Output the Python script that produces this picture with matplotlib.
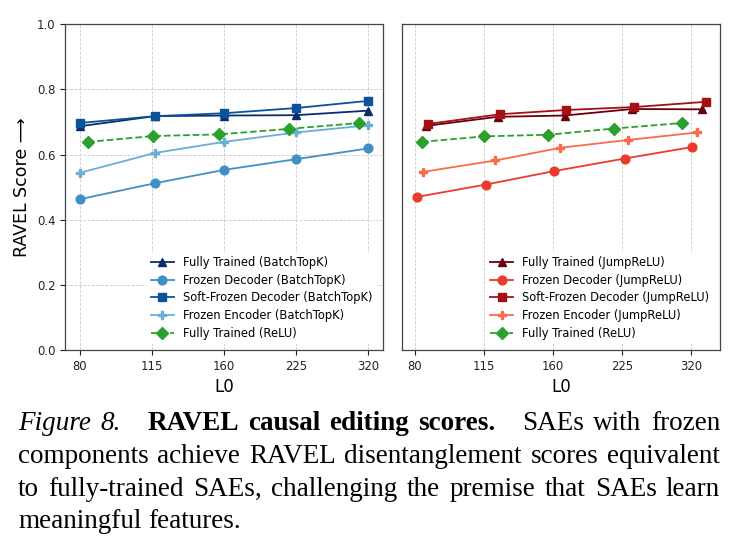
import matplotlib
matplotlib.use("Agg")
import matplotlib.pyplot as plt

# x ticks: L0 categories (points are drawn at category index + a small jitter)
l0_labels = ["80", "115", "160", "225", "320"]
l0_pos = [0, 1, 2, 3, 4]

# left panel: BatchTopK
btk_full_x = [0.0, 1.04, 2.0, 3.0, 4.0]
btk_full_y = [0.687, 0.718, 0.720, 0.721, 0.735]
btk_fdec_x = [0.0, 1.04, 2.0, 3.0, 4.0]
btk_fdec_y = [0.463, 0.512, 0.553, 0.586, 0.619]
btk_soft_x = [0.0, 1.04, 2.0, 3.0, 4.0]
btk_soft_y = [0.697, 0.718, 0.727, 0.743, 0.765]
btk_fenc_x = [0.0, 1.04, 2.0, 3.0, 4.0]
btk_fenc_y = [0.544, 0.605, 0.639, 0.668, 0.690]
relu_left_x = [0.11, 1.02, 1.93, 2.90, 3.87]
relu_left_y = [0.639, 0.657, 0.662, 0.679, 0.697]

# right panel: JumpReLU
jr_full_x = [0.16, 1.20, 2.17, 3.15, 4.16]
jr_full_y = [0.688, 0.716, 0.720, 0.740, 0.739]
jr_fdec_x = [0.03, 1.03, 2.01, 3.04, 4.01]
jr_fdec_y = [0.470, 0.508, 0.549, 0.588, 0.623]
jr_soft_x = [0.19, 1.24, 2.19, 3.18, 4.21]
jr_soft_y = [0.694, 0.724, 0.737, 0.746, 0.762]
jr_fenc_x = [0.12, 1.17, 2.11, 3.09, 4.09]
jr_fenc_y = [0.547, 0.582, 0.621, 0.645, 0.668]
relu_right_x = [0.10, 1.01, 1.93, 2.88, 3.87]
relu_right_y = [0.639, 0.656, 0.661, 0.680, 0.697]

fig = plt.figure(figsize=(7.38, 5.43), dpi=100)
ax1 = fig.add_axes([0.0885, 0.3554, 0.430, 0.5998])
ax2 = fig.add_axes([0.5451, 0.3554, 0.4305, 0.5998])

kw = dict(lw=1.3, ms=6.3)

ax1.plot(btk_full_x, btk_full_y, marker="^", color="#0b2d6b", label="Fully Trained (BatchTopK)", **kw)
ax1.plot(btk_fdec_x, btk_fdec_y, marker="o", color="#4090c8", label="Frozen Decoder (BatchTopK)", **kw)
ax1.plot(btk_soft_x, btk_soft_y, marker="s", color="#0b519c", label="Soft-Frozen Decoder (BatchTopK)", **kw)
ax1.plot(btk_fenc_x, btk_fenc_y, marker="P", color="#6baed6", label="Frozen Encoder (BatchTopK)", **kw)
ax1.plot(relu_left_x, relu_left_y, marker="D", ls="--", color="#2ca02c", label="Fully Trained (ReLU)", **kw)

ax2.plot(jr_full_x, jr_full_y, marker="^", color="#67000d", label="Fully Trained (JumpReLU)", **kw)
ax2.plot(jr_fdec_x, jr_fdec_y, marker="o", color="#ec3a2c", label="Frozen Decoder (JumpReLU)", **kw)
ax2.plot(jr_soft_x, jr_soft_y, marker="s", color="#a50f15", label="Soft-Frozen Decoder (JumpReLU)", **kw)
ax2.plot(jr_fenc_x, jr_fenc_y, marker="P", color="#fb6a4a", label="Frozen Encoder (JumpReLU)", **kw)
ax2.plot(relu_right_x, relu_right_y, marker="D", ls="--", color="#2ca02c", label="Fully Trained (ReLU)", **kw)

for ax in (ax1, ax2):
    ax.set_ylim(0, 1.0)
    ax.set_xticks(l0_pos)
    ax.set_xticklabels(l0_labels)
    ax.tick_params(labelsize=8.4, colors="#222222", width=0.8)
    ax.set_xlabel("L0", fontsize=12)
    for s in ax.spines.values():
        s.set_color("#444444")
        s.set_linewidth(0.9)
    leg = ax.legend(loc="lower right", fontsize=8.3, frameon=True, fancybox=False,
                    labelspacing=0.4)
    leg.get_frame().set_edgecolor("none")
    leg.get_frame().set_facecolor("white")
    leg.get_frame().set_alpha(1.0)

ax1.grid(True, ls="--", lw=0.6, color="#cccccc")
ax1.set_axisbelow(True)
ax1.set_yticks([0.0, 0.2, 0.4, 0.6, 0.8, 1.0])
ax1.set_ylabel("RAVEL Score \u27f6", fontsize=12.5)
ax2.grid(True, axis="x", ls="--", lw=0.6, color="#cccccc")
ax2.set_axisbelow(True)
ax2.set_yticks([])

# caption below the plots, justified like the paper
cap_font = "Liberation Serif"
cap_size = 19.5
left_px, right_px = 18, 720
cap_lines = [
    [("Figure", "italic", "normal", 1), ("8.", "italic", "normal", 3),
     ("RAVEL", "normal", "bold", 1), ("causal", "normal", "bold", 1),
     ("editing", "normal", "bold", 1), ("scores.", "normal", "bold", 3),
     ("SAEs", "normal", "normal", 1), ("with", "normal", "normal", 1),
     ("frozen", "normal", "normal", 1)],
    [(w, "normal", "normal", 1) for w in
     "components achieve RAVEL disentanglement scores equivalent".split()],
    [(w, "normal", "normal", 1) for w in
     "to fully-trained SAEs, challenging the premise that SAEs learn".split()],
    [(w, "normal", "normal", 1) for w in "meaningful features.".split()],
]
baselines = [430, 463, 496, 528]

fig.canvas.draw()
renderer = fig.canvas.get_renderer()
W, H = fig.bbox.width, fig.bbox.height
for i, (tokens, base) in enumerate(zip(cap_lines, baselines)):
    texts = [fig.text(0, 1 - base / H, t, fontsize=cap_size, family=cap_font,
                      style=st, weight=wt, va="baseline", ha="left")
             for t, st, wt, g in tokens]
    widths = [t.get_window_extent(renderer).width for t in texts]
    weights = [g for _, _, _, g in tokens[:-1]]
    if i < len(cap_lines) - 1:
        unit = (right_px - left_px - sum(widths)) / sum(weights)
    else:
        unit = cap_size * 100 / 72 * 0.25
    x = left_px
    for t, w, g in zip(texts, widths, weights + [0]):
        t.set_x(x / W)
        x += w + g * unit

fig.savefig("out.png", dpi=100)
